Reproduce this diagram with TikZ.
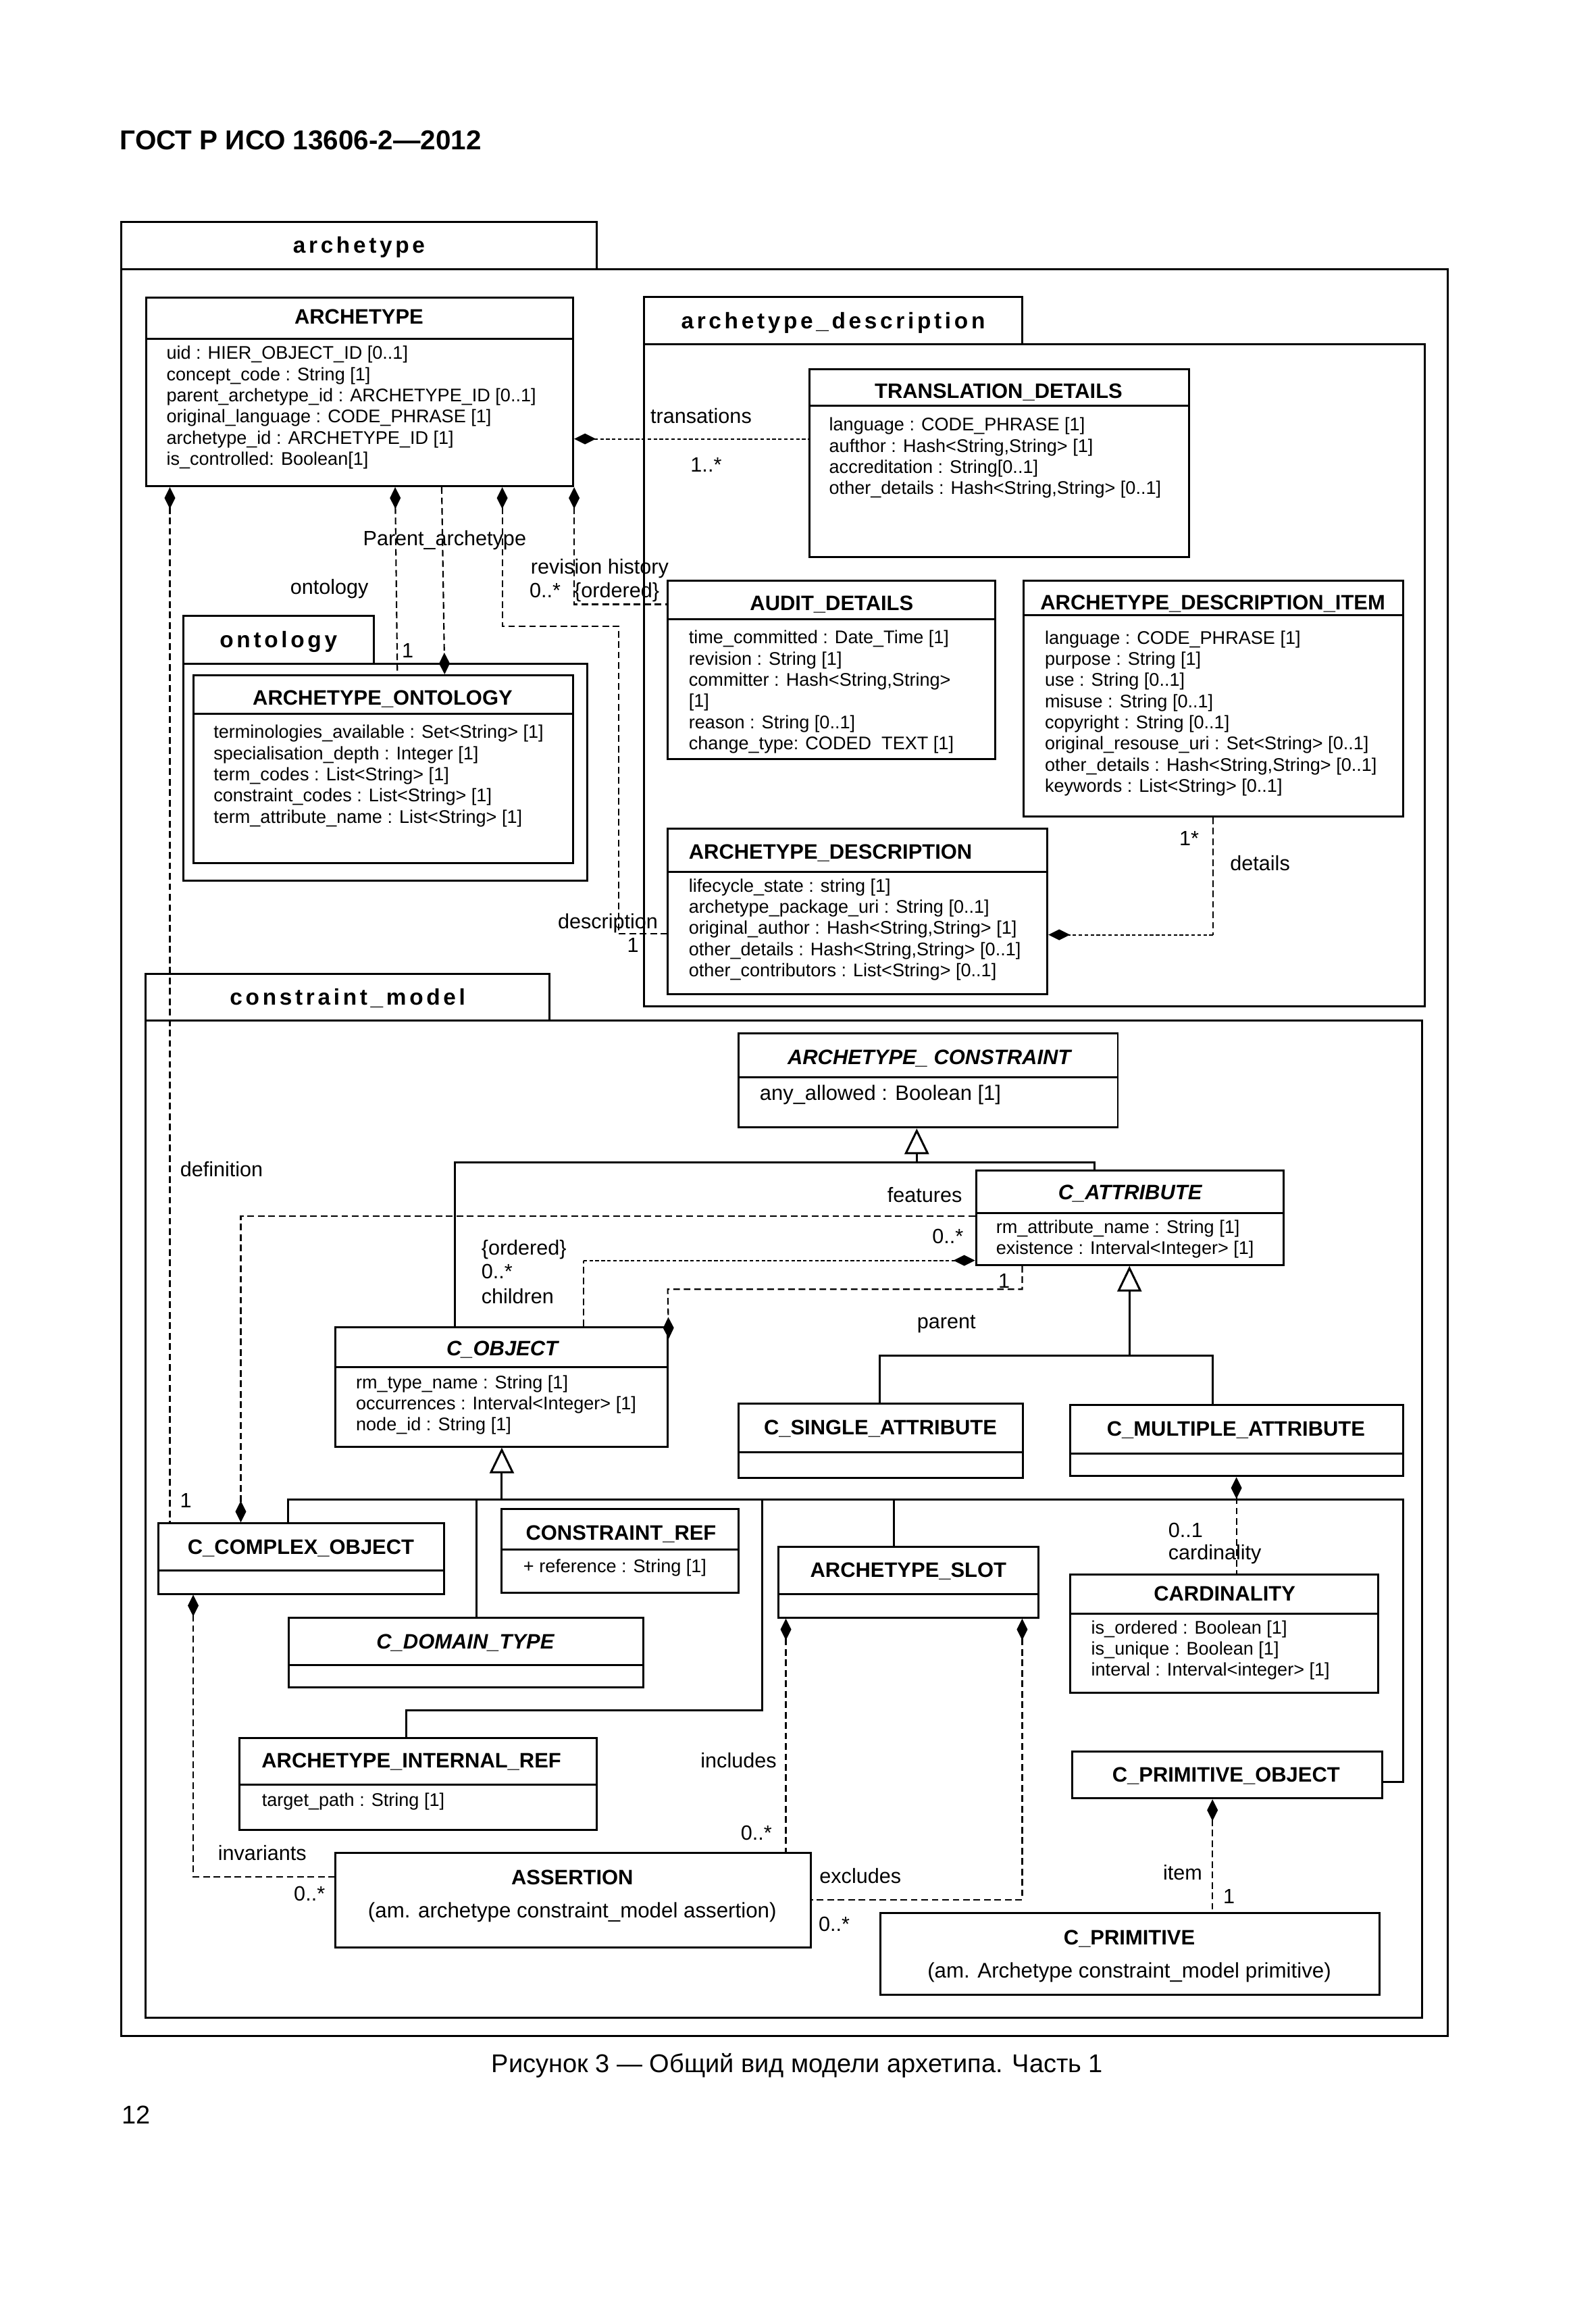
\documentclass[tikz,border=0pt]{standalone}
\usepackage{fontspec}
\setmainfont{Liberation Sans}
\newfontfamily\pkgfont{Liberation Sans}[LetterSpace=14]
\usetikzlibrary{arrows.meta,fit}

\begin{document}
\begin{tikzpicture}[x=0.02187cm, y=-0.02187cm,
  box/.style={draw, line width=0.85pt, inner sep=0pt},
  tab/.style={draw, line width=0.85pt, inner sep=0pt},
  pkgname/.style={inner sep=0pt, text height=1.5ex, text depth=0.25ex, font=\pkgfont\bfseries\fontsize{9.5}{11}\selectfont},
  hbar/.style={line width=0.85pt},
  title/.style={inner sep=0pt, text height=1.5ex, text depth=0.25ex, font=\bfseries\fontsize{8.8}{10}\selectfont},
  ititle/.style={title, font=\bfseries\itshape\fontsize{8.8}{10}\selectfont},
  attrs/.style={inner sep=0pt, anchor=north west, align=left, font=\fontsize{7.7}{8.9}\selectfont},
  lbl/.style={inner sep=0pt, text height=1.5ex, text depth=0.25ex, font=\fontsize{8.7}{10}\selectfont},
  sub/.style={lbl, font=\fontsize{8.9}{10}\selectfont},
  dep/.style={line width=0.6pt, dash pattern=on 2.8pt off 1.6pt},
  dots/.style={line width=0.6pt, dash pattern=on 1.5pt off 1pt},
  owner/.style={{Diamond[length=3.2mm,width=1.6mm]}-},
  owned/.style={-{Diamond[length=3.2mm,width=1.6mm]}},
  genl/.style={line width=0.85pt},
  isa/.style={-{Triangle[open,length=3.8mm,width=3.6mm]}}]

\path [fill=white, use as bounding box] (0,0) rectangle (1080,1566);

\node [anchor=base west, inner sep=0pt, font=\bfseries\fontsize{11.5}{13}\selectfont] (gost) at (81,101.5) {ГОСТ Р ИСО 13606-2—2012};

% packages
\node [box, fit={(82,182) (980,1378)}] (archpkg) {};
\node [tab, fit={(82,150) (404,182)}] (archtab) {};
\node [pkgname] (archtabname) at (archtab.center) {archetype};
\node [box, fit={(436,233) (964.5,681)}] (descpkg) {};
\node [tab, fit={(436,201) (692,233)}] (desctab) {};
\node [pkgname] (desctabname) at (desctab.center) {archetype\_description};
\node [box, fit={(124,449) (397.5,596)}] (ontopkg) {};
\node [tab, fit={(124,416.6) (253,449)}] (ontotab) {};
\node [pkgname] (ontotabname) at (ontotab.center) {ontology};
\node [box, fit={(98.7,690.5) (962.5,1365.7)}] (conspkg) {};
\node [tab, fit={(98.7,659) (372,690.5)}] (constab) {};
\node [pkgname] (constabname) at (constab.center) {constraint\_model};

% classes
\node [box, fit={(98.8,201.6) (388,329)}] (archetype) {};
\draw [hbar] (archetype.west |- 0,229.5) -- (archetype.east |- 0,229.5);
\node [title] (archetypename) at (243,214) {ARCHETYPE};
\node [attrs] (archetypeattrs) at (112.4,233.9) {uid : HIER\_OBJECT\_ID [0..1]\\concept\_code : String [1]\\parent\_archetype\_id : ARCHETYPE\_ID [0..1]\\original\_language : CODE\_PHRASE [1]\\archetype\_id : ARCHETYPE\_ID [1]\\is\_controlled: Boolean[1]};

\node [box, fit={(548,249.7) (805,376.8)}] (transdet) {};
\draw [hbar] (transdet.west |- 0,274.7) -- (transdet.east |- 0,274.7);
\node [title] (transdetname) at (676,264) {TRANSLATION\_DETAILS};
\node [attrs] (transdetattrs) at (561,282.4) {language : CODE\_PHRASE [1]\\aufthor : Hash<String,String> [1]\\accreditation : String[0..1]\\other\_details : Hash<String,String> [0..1]};

\node [box, fit={(452,393) (673.5,513.6)}] (audit) {};
\draw [hbar] (audit.west |- 0,419) -- (audit.east |- 0,419);
\node [title] (auditname) at (563,408) {AUDIT\_DETAILS};
\node [attrs] (auditattrs) at (466,426.4) {time\_committed : Date\_Time [1]\\revision : String [1]\\committer : Hash<String,String>\\{[1]}\\reason : String [0..1]\\change\_type: CODED\ \ TEXT [1]};

\node [box, fit={(692.7,393) (950,552.5)}] (adi) {};
\draw [hbar] (adi.west |- 0,416.5) -- (adi.east |- 0,416.5);
\node [title] (adiname) at (821,407.5) {ARCHETYPE\_DESCRIPTION\_ITEM};
\node [attrs] (adiattrs) at (707,426.6) {language : CODE\_PHRASE [1]\\purpose : String [1]\\use : String [0..1]\\misuse : String [0..1]\\copyright : String [0..1]\\original\_resouse\_uri : Set<String> [0..1]\\other\_details : Hash<String,String> [0..1]\\keywords : List<String> [0..1]};

\node [box, fit={(452,561) (709,672.6)}] (archdesc) {};
\draw [hbar] (archdesc.west |- 0,590) -- (archdesc.east |- 0,590);
\node [title, anchor=west] (archdescname) at (466,576) {ARCHETYPE\_DESCRIPTION};
\node [attrs] (archdescattrs) at (466,594.4) {lifecycle\_state : string [1]\\archetype\_package\_uri : String [0..1]\\original\_author : Hash<String,String> [1]\\other\_details : Hash<String,String> [0..1]\\other\_contributors : List<String> [0..1]};

\node [box, fit={(131,457) (388,584)}] (ontobox) {};
\draw [hbar] (ontobox.west |- 0,483) -- (ontobox.east |- 0,483);
\node [title] (ontoboxname) at (259,472) {ARCHETYPE\_ONTOLOGY};
\node [attrs] (ontoboxattrs) at (144.3,490.4) {terminologies\_available : Set<String> [1]\\specialisation\_depth : Integer [1]\\term\_codes : List<String> [1]\\constraint\_codes : List<String> [1]\\term\_attribute\_name : List<String> [1]};

\node [box, fit={(500,699.5) (756.7,763)}] (archcons) {};
\draw [hbar] (archcons.west |- 0,729) -- (archcons.east |- 0,729);
\node [ititle] (archconsname) at (629,715) {ARCHETYPE\_ CONSTRAINT};
\node [attrs, font=\fontsize{8.8}{10}\selectfont] (archconsattrs) at (514,733.8) {any\_allowed : Boolean [1]};

\node [box, fit={(660.7,792) (869,856)}] (cattr) {};
\draw [hbar] (cattr.west |- 0,821) -- (cattr.east |- 0,821);
\node [ititle] (cattrname) at (765,806.6) {C\_ATTRIBUTE};
\node [attrs] (cattrattrs) at (674,825.4) {rm\_attribute\_name : String [1]\\existence : Interval<Integer> [1]};

\node [box, fit={(227,898) (452,979)}] (cobject) {};
\draw [hbar] (cobject.west |- 0,925) -- (cobject.east |- 0,925);
\node [ititle] (cobjectname) at (340,912) {C\_OBJECT};
\node [attrs] (cobjectattrs) at (240.7,930.4) {rm\_type\_name : String [1]\\occurrences : Interval<Integer> [1]\\node\_id : String [1]};

\node [box, fit={(500,949.7) (692.5,1000)}] (csingle) {};
\draw [hbar] (csingle.west |- 0,983) -- (csingle.east |- 0,983);
\node [title] (csinglename) at (596,965.5) {C\_SINGLE\_ATTRIBUTE};

\node [box, fit={(724.6,951) (950,999)}] (cmulti) {};
\draw [hbar] (cmulti.west |- 0,983.6) -- (cmulti.east |- 0,983.6);
\node [title] (cmultiname) at (836.7,966.5) {C\_MULTIPLE\_ATTRIBUTE};

\node [box, fit={(107.4,1031) (300.4,1078.6)}] (cco) {};
\draw [hbar] (cco.west |- 0,1063) -- (cco.east |- 0,1063);
\node [title] (cconame) at (203.7,1046.5) {C\_COMPLEX\_OBJECT};

\node [box, fit={(339.3,1021.2) (500,1077.7)}] (cref) {};
\draw [hbar] (cref.west |- 0,1048.5) -- (cref.east |- 0,1048.5);
\node [title] (crefname) at (420.4,1036.8) {CONSTRAINT\_REF};
\node [attrs] (crefattrs) at (354,1055.1) {+ reference : String [1]};

\node [box, fit={(527,1046.7) (703,1094.7)}] (aslot) {};
\draw [hbar] (aslot.west |- 0,1079) -- (aslot.east |- 0,1079);
\node [title] (aslotname) at (614.9,1062) {ARCHETYPE\_SLOT};

\node [box, fit={(724.6,1065.5) (933,1145.4)}] (card) {};
\draw [hbar] (card.west |- 0,1092) -- (card.east |- 0,1092);
\node [title] (cardname) at (829,1078) {CARDINALITY};
\node [attrs] (cardattrs) at (738.4,1096.4) {is\_ordered : Boolean [1]\\is\_unique : Boolean [1]\\interval : Interval<integer> [1]};

\node [box, fit={(195.6,1094.7) (435.6,1142)}] (cdomain) {};
\draw [hbar] (cdomain.west |- 0,1127) -- (cdomain.east |- 0,1127);
\node [ititle] (cdomainname) at (315,1110.6) {C\_DOMAIN\_TYPE};

\node [box, fit={(162.3,1176) (404,1238.6)}] (airef) {};
\draw [hbar] (airef.west |- 0,1207.6) -- (airef.east |- 0,1207.6);
\node [title] (airefname) at (278.5,1191) {ARCHETYPE\_INTERNAL\_REF};
\node [attrs] (airefattrs) at (177,1213.1) {target\_path : String [1]};

\node [box, fit={(725.7,1185.5) (935.8,1217)}] (cprimobj) {};
\node [title] (cprimobjname) at (830,1200.5) {C\_PRIMITIVE\_OBJECT};

\node [box, fit={(227,1254) (548.7,1318)}] (assertion) {};
\node [title] (assertionname) at (387.4,1270) {ASSERTION};
\node [sub] (assertionsub) at (387.4,1292.5) {(am. archetype constraint\_model assertion)};

\node [box, fit={(595.8,1294.5) (933.7,1349.8)}] (cprim) {};
\node [title] (cprimname) at (764.5,1311) {C\_PRIMITIVE};
\node [sub] (cprimsub) at (764.5,1333) {(am. Archetype constraint\_model primitive)};

% associations of archetype
\draw [dots, owner] (archetype.east |- 0,297) -- (transdet.west |- 0,297);
\node [lbl] (transl) at (474.6,281) {transations};
\node [lbl] (transm) at (478,314) {1..*};

\draw [dep, owner] (archetype.south -| 115,0) -- (cco.north -| 115,0);
\node [lbl] (defl) at (150,791) {definition};
\node [lbl] (defm) at (125.8,1015) {1};

\draw [dep, owner] (archetype.south -| 267.5,0) -- (ontobox.north -| 269,0);
\node [lbl] (ontol) at (223,397) {ontology};
\node [lbl] (ontom) at (276,440) {1};

\draw [dep, owned] (archetype.south -| 299,0) -- (ontobox.north -| 301,0);
\node [lbl] (parentl) at (301,364) {Parent\_archetype};

\draw [dep, owner] (archetype.south east) |- (audit.west |- 0,409);
\node [lbl] (revl) at (406,383) {revision history};
\node [lbl] (revm) at (369,399) {0..*};
\node [lbl] (revo) at (417.5,399) {\{ordered\}};

\draw [dep, owner] (archetype.south -| 340,0) |- (419,424) |- (archdesc.west |- 0,632);
\node [lbl] (descl) at (411.5,623) {description};
\node [lbl] (descm) at (428.5,639) {1};

\coordinate (detailsbend) at (821,632.6);
\draw [dep] (adi.south -| detailsbend) -- (detailsbend);
\draw [dots, owned] (detailsbend) -- (archdesc.east |- detailsbend);
\node [lbl] (detm) at (805,567) {1*};
\node [lbl] (detl) at (853,584) {details};

% constraint model
\coordinate (consjoin) at (620.6,786.5);
\draw [genl] (cobject.north -| 308,0) |- (consjoin) -| (cattr.north -| 741,0);
\draw [genl, isa] (consjoin) -- (archcons.south -| consjoin);

\draw [dep, owned] (cattr.west |- 0,823) -| (cco.north -| 163,0);
\node [lbl] (featl) at (626,808.5) {features};
\node [lbl] (featm) at (641.6,836) {0..*};

\coordinate (childbend) at (395,853);
\draw [dep] (cobject.north -| childbend) -- (childbend);
\draw [dots, owned] (childbend) -- (cattr.west |- childbend);
\node [lbl, anchor=west] (childo) at (325.6,844) {\{ordered\}};
\node [lbl, anchor=west] (childm) at (325.6,860) {0..*};
\node [lbl, anchor=west] (childl) at (325.6,877) {children};

\draw [dep, owned] (cattr.south -| 692,0) |- (452,872.5) -- (cobject.east |- 0,906);
\node [lbl] (parm) at (679.7,866.6) {1};
\node [lbl] (parl) at (640.7,894) {parent};

\coordinate (attrjoin) at (764.6,917.6);
\draw [genl, isa] (attrjoin) -- (cattr.south -| attrjoin);
\draw [genl] (csingle.north -| 595.6,0) |- (attrjoin) -| (cmulti.north -| 821,0);

\coordinate (objjoin) at (339.7,1015);
\coordinate (objrail) at (950,1015);
\draw [genl, isa] (objjoin) -- (cobject.south -| objjoin);
\draw [genl] (cco.north -| 194.8,0) |- (objrail) |- (cprimobj.east |- 0,1206);
\draw [genl] (cdomain.north -| 322.7,0) |- (objjoin);
\draw [genl] (aslot.north -| 605,0) |- (objjoin);
\draw [genl] (airef.north -| 275,0) -- ++(0,-18) -| (objjoin -| 516,0);

\draw [dep, owner] (cmulti.south -| 837,0) -- (card.north -| 837,0);
\node [lbl, anchor=west] (cardm) at (790.6,1035) {0..1};
\node [lbl, anchor=west] (cardl) at (790.6,1050) {cardinality};

\draw [dep, owner] (cco.south -| 130.8,0) |- (assertion.west |- 0,1270);
\node [lbl] (invl) at (177.5,1253.7) {invariants};
\node [lbl] (invm) at (209.5,1281) {0..*};

\draw [dep, owner] (aslot.south -| 532,0) -- (assertion.north -| 532,0);
\node [lbl] (incl) at (500,1191) {includes};
\node [lbl] (incm) at (512,1240) {0..*};

\draw [dep, owner] (aslot.south -| 692,0) |- (assertion.east |- 0,1285.6);
\node [lbl] (excl) at (582.4,1269) {excludes};
\node [lbl] (excm) at (564.7,1301.6) {0..*};

\draw [dep, owner] (cprimobj.south -| 820.8,0) -- (cprim.north -| 820.8,0);
\node [lbl] (iteml) at (800.6,1267) {item};
\node [lbl] (itemm) at (832,1283) {1};

\node [inner sep=0pt, text height=1.5ex, text depth=0.25ex, font=\fontsize{10.8}{12}\selectfont] (caption) at (539.7,1397) {Рисунок 3 — Общий вид модели архетипа. Часть 1};
\node [inner sep=0pt, text height=1.5ex, text depth=0.25ex, font=\fontsize{10.8}{12}\selectfont] (pagenum) at (92,1432) {12};
\end{tikzpicture}
\end{document}
